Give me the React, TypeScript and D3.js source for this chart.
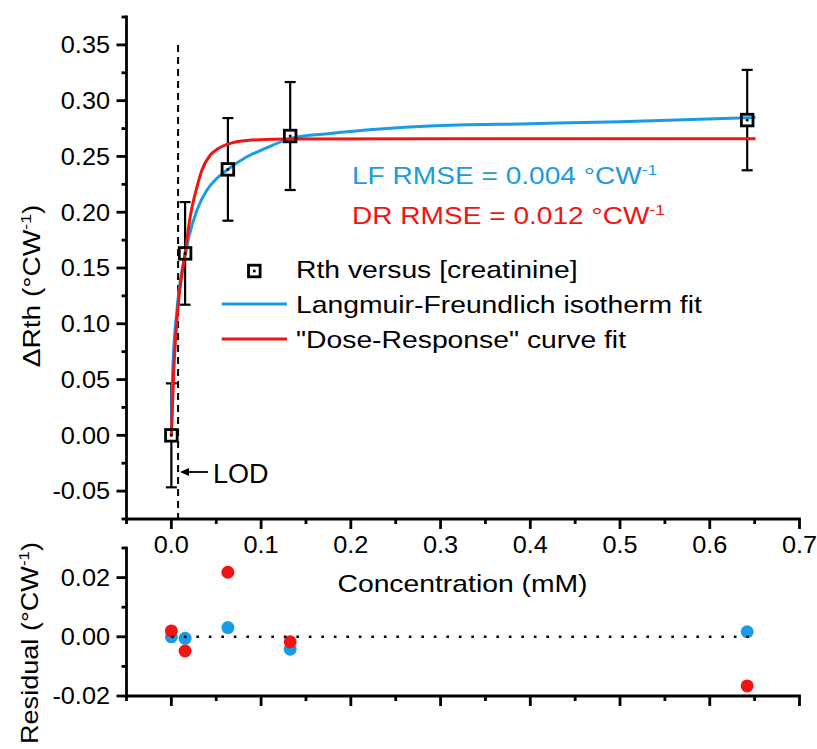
import React from "react";
import * as d3 from "d3";

// ---- data ----
const concentration = [0, 0.0153, 0.063, 0.1324, 0.6417];
const deltaRth = [0, 0.1631, 0.2384, 0.2683, 0.2826];
const deltaRthErr = [0.0466, 0.046, 0.046, 0.0484, 0.045];

const lfCurveX = [0, 0.0014, 0.0062, 0.01, 0.0153, 0.0193, 0.0286, 0.0397, 0.0508, 0.063, 0.0842, 0.1027, 0.1324, 0.177, 0.2326, 0.288, 0.4, 0.5, 0.651];
const lfCurveY = [0, 0.056, 0.112, 0.139, 0.161, 0.177, 0.202, 0.2199, 0.2304, 0.2384, 0.2497, 0.2565, 0.266, 0.2705, 0.2745, 0.2772, 0.2793, 0.2812, 0.2848];

const drCurveX = [0, 0.0026, 0.0068, 0.0153, 0.021, 0.0286, 0.0341, 0.0434, 0.0527, 0.063, 0.0842, 0.1324, 0.651];
const drCurveY = [0, 0.056, 0.11, 0.163, 0.196, 0.2228, 0.2378, 0.2513, 0.2573, 0.2611, 0.2644, 0.2657, 0.2658];

const lfResidual = [0.0, -0.0005, 0.0031, -0.0042, 0.0017];
const drResidual = [0.002, -0.0048, 0.0218, -0.0017, -0.0166];

const lodConcentration = 0.0075;

const xMajorTicks = [0, 0.1, 0.2, 0.3, 0.4, 0.5, 0.6, 0.7];
const xMinorTicks = [-0.05, 0.05, 0.15, 0.25, 0.35, 0.45, 0.55, 0.65];
const yMajorTicks = [-0.05, 0, 0.05, 0.1, 0.15, 0.2, 0.25, 0.3, 0.35];
const yMinorTicks = [-0.075, -0.025, 0.025, 0.075, 0.125, 0.175, 0.225, 0.275, 0.325, 0.375];
const rMajorTicks = [-0.02, 0, 0.02];
const rMinorTicks = [-0.01, 0.01, 0.03];

const legendLabels = ["Rth versus [creatinine]", "Langmuir-Freundlich isotherm fit", "\"Dose-Response\" curve fit"];

const BLUE = "#1a9be6";
const RED = "#f01414";
const FONT = "'Liberation Sans', Arial, sans-serif";

const fmt = (d: number, p: number) => d.toFixed(p).replace("\u2212", "-");

function T(props: any) {
  const { x, y, sx = 1.17, rot = 0, size = 24, anchor = "start", fill = "#000", children } = props;
  return (
    <text
      transform={`translate(${x},${y}) rotate(${rot}) scale(${sx},1)`}
      textAnchor={anchor}
      fontSize={size}
      fontFamily={FONT}
      fill={fill}
    >
      {children}
    </text>
  );
}

function Square({ cx, cy }: { cx: number; cy: number }) {
  return (
    <g>
      <rect x={cx - 5.8} y={cy - 5.8} width={11.6} height={11.6} fill="none" stroke="#000" strokeWidth={2.8} />
      <rect x={cx - 1.3} y={cy - 1.3} width={2.6} height={2.6} fill="#000" />
    </g>
  );
}

export default function App() {
  const W = 817, H = 749;
  const x = d3.scaleLinear().domain([-0.05, 0.7]).range([126.5, 799.5]);
  const y = d3.scaleLinear().domain([-0.075, 0.375]).range([519, 17]);
  const yr = d3.scaleLinear().domain([-0.02, 0.03]).range([696, 548]);

  const lfLine = d3.line<number>().x((_, i) => x(lfCurveX[i])).y((d) => y(d)).curve(d3.curveMonotoneX);
  const drLine = d3.line<number>().x((_, i) => x(drCurveX[i])).y((d) => y(d)).curve(d3.curveMonotoneX);

  const axisW = 2.8;
  const x0 = x(-0.05), x1 = x(0.7);

  return (
    <svg width={W} height={H} style={{ position: "absolute", left: 0, top: 0, background: "#fff" }}>
      <rect width={W} height={H} fill="#fff" />

      {/* LOD dashed line */}
      <line x1={x(lodConcentration)} x2={x(lodConcentration)} y1={y(0.35)} y2={y(-0.075)} stroke="#000" strokeWidth={2} strokeDasharray="7 5" />

      {/* error bars */}
      {concentration.map((c, i) => {
        const cx = x(c);
        const t = y(deltaRth[i] + deltaRthErr[i]);
        const b = y(deltaRth[i] - deltaRthErr[i]);
        return (
          <g key={"e" + i} stroke="#000" strokeWidth={2.2}>
            <line x1={cx} x2={cx} y1={t} y2={b} />
            <line x1={cx - 5.5} x2={cx + 5.5} y1={t} y2={t} />
            <line x1={cx - 5.5} x2={cx + 5.5} y1={b} y2={b} />
          </g>
        );
      })}
      {/* white interior of squares */}
      {concentration.map((c, i) => (
        <rect key={"w" + i} x={x(c) - 5.8} y={y(deltaRth[i]) - 5.8} width={11.6} height={11.6} fill="#fff" />
      ))}

      {/* fit curves */}
      <path d={lfLine(lfCurveY) || ""} fill="none" stroke={BLUE} strokeWidth={3} />
      <path d={drLine(drCurveY) || ""} fill="none" stroke={RED} strokeWidth={3} />

      {/* squares */}
      {concentration.map((c, i) => (
        <Square key={"s" + i} cx={x(c)} cy={y(deltaRth[i])} />
      ))}

      {/* top axes */}
      <g stroke="#000" strokeWidth={axisW}>
        <line x1={x0} x2={x0} y1={y(0.375) - 1.4} y2={y(-0.075) + 1.4} />
        <line x1={x0} x2={x1 + 1.4} y1={y(-0.075)} y2={y(-0.075)} />
        {yMajorTicks.map((t) => (
          <line key={"ym" + t} x1={x0 - 10} x2={x0} y1={y(t)} y2={y(t)} />
        ))}
        {yMinorTicks.map((t) => (
          <line key={"yn" + t} x1={x0 - 5} x2={x0} y1={y(t)} y2={y(t)} />
        ))}
        {xMajorTicks.map((t) => (
          <line key={"xm" + t} x1={x(t)} x2={x(t)} y1={y(-0.075)} y2={y(-0.075) + 10} />
        ))}
        {xMinorTicks.map((t) => (
          <line key={"xn" + t} x1={x(t)} x2={x(t)} y1={y(-0.075)} y2={y(-0.075) + 5} />
        ))}
      </g>
      {yMajorTicks.map((t) => (
        <T key={"yl" + t} x={110} y={y(t) + 8.3} anchor="end" size={23} sx={1.1}>
          {fmt(t, 2)}
        </T>
      ))}
      {xMajorTicks.map((t) => (
        <T key={"xl" + t} x={x(t)} y={553} anchor="middle" size={23} sx={1.1}>
          {fmt(t, 1)}
        </T>
      ))}

      {/* y label top */}
      <T x={40} y={286} rot={-90} anchor="middle" size={24} sx={1.17}>
        ΔRth (°CW<tspan fontSize={15} dy={-9}>-1</tspan><tspan dy={9}>)</tspan>
      </T>

      {/* x label */}
      <T x={462.5} y={592} anchor="middle" size={24} sx={1.18}>
        Concentration (mM)
      </T>

      {/* LOD arrow */}
      <line x1={208} x2={186} y1={472} y2={472} stroke="#000" strokeWidth={1.8} />
      <path d={`M180,472 L189,468 L189,476 Z`} fill="#000" />
      <T x={213} y={482.5} size={27} sx={1}>LOD</T>

      {/* RMSE texts */}
      <T x={352} y={183.5} size={24} sx={1.17} fill={BLUE}>
        LF RMSE = 0.004 °CW<tspan fontSize={15} dy={-9}>-1</tspan>
      </T>
      <T x={352} y={223.5} size={24} sx={1.17} fill={RED}>
        DR RMSE = 0.012 °CW<tspan fontSize={15} dy={-9}>-1</tspan>
      </T>

      {/* legend */}
      <rect x={254.3 - 5.8} y={271 - 5.8} width={11.6} height={11.6} fill="#fff" />
      <Square cx={254.3} cy={271} />
      <line x1={221.7} x2={287} y1={304} y2={304} stroke={BLUE} strokeWidth={3} />
      <line x1={221.7} x2={287} y1={339} y2={339} stroke={RED} strokeWidth={3} />
      {legendLabels.map((l, i) => (
        <T key={"lg" + i} x={296} y={278 + i * 35} size={24} sx={1.18}>
          {l}
        </T>
      ))}

      {/* residual panel */}
      {concentration.map((c, i) => (
        <circle key={"rb" + i} cx={x(c)} cy={yr(lfResidual[i])} r={6.5} fill={BLUE} />
      ))}
      {concentration.map((c, i) => (
        <circle key={"rr" + i} cx={x(c)} cy={yr(drResidual[i])} r={6.5} fill={RED} />
      ))}
      <line x1={x(0)} x2={x(0.65)} y1={yr(0)} y2={yr(0)} stroke="#000" strokeWidth={2.6} strokeDasharray="2.6 9.9" />

      <g stroke="#000" strokeWidth={axisW}>
        <line x1={x0} x2={x0} y1={yr(0.03) - 1.4} y2={yr(-0.02) + 1.4} />
        <line x1={x0} x2={x1 + 1.4} y1={yr(-0.02)} y2={yr(-0.02)} />
        {rMajorTicks.map((t) => (
          <line key={"rm" + t} x1={x0 - 10} x2={x0} y1={yr(t)} y2={yr(t)} />
        ))}
        {rMinorTicks.map((t) => (
          <line key={"rn" + t} x1={x0 - 5} x2={x0} y1={yr(t)} y2={yr(t)} />
        ))}
        {xMajorTicks.map((t) => (
          <line key={"rxm" + t} x1={x(t)} x2={x(t)} y1={yr(-0.02)} y2={yr(-0.02) + 10} />
        ))}
        {xMinorTicks.map((t) => (
          <line key={"rxn" + t} x1={x(t)} x2={x(t)} y1={yr(-0.02)} y2={yr(-0.02) + 5} />
        ))}
      </g>
      {rMajorTicks.map((t) => (
        <T key={"rl" + t} x={110} y={yr(t) + 8.3} anchor="end" size={23} sx={1.1}>
          {fmt(t, 2)}
        </T>
      ))}
      <T x={38} y={643} rot={-90} anchor="middle" size={24} sx={1.13}>
        Residual (°CW<tspan fontSize={15} dy={-9}>-1</tspan><tspan dy={9}>)</tspan>
      </T>
    </svg>
  );
}
